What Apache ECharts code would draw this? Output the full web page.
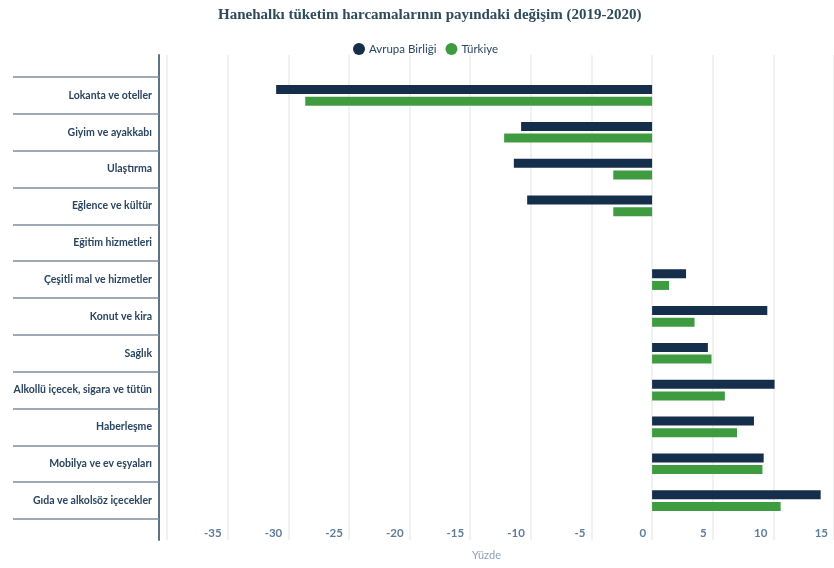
<!DOCTYPE html>
<html lang="tr">
<head>
<meta charset="UTF-8">
<title>Hanehalkı tüketim harcamaları</title>
<script src="https://cdn.jsdelivr.net/npm/echarts@6/dist/echarts.min.js"></script>
<style>
  html, body { margin: 0; padding: 0; background: #fff; }
  #chart { width: 834px; height: 568px; }
</style>
</head>
<body>
<div id="chart"></div>
<script>
// kategoriler (yukarıdan aşağıya)
var categories = [
  'Lokanta ve oteller',
  'Giyim ve ayakkabı',
  'Ulaştırma',
  'Eğlence ve kültür',
  'Eğitim hizmetleri',
  'Çeşitli mal ve hizmetler',
  'Konut ve kira',
  'Sağlık',
  'Alkollü içecek, sigara ve tütün',
  'Haberleşme',
  'Mobilya ve ev eşyaları',
  'Gıda ve alkolsöz içecekler'
];
var abValues = [-31.0, -10.8, -11.4, -10.3, 0, 2.8, 9.5, 4.6, 10.1, 8.4, 9.2, 13.9];
var trValues = [-28.6, -12.2, -3.2, -3.2, 0, 1.4, 3.5, 4.9, 6.0, 7.0, 9.1, 10.6];
var xMin = -40, xMax = 15, xStep = 5;

var axisBlue = '#5d7284';
var labelFont = "'Lato', sans-serif";

var chart = echarts.init(document.getElementById('chart'));
chart.setOption({
  backgroundColor: '#fff',
  animation: false,
  title: {
    text: 'Hanehalkı tüketim harcamalarının payındaki değişim (2019-2020)',
    left: 213,
    top: 3,
    textStyle: {
      fontFamily: "'Liberation Serif', serif",
      fontWeight: 'bold',
      fontSize: 15,
      color: '#2e4b5c'
    }
  },
  legend: {
    left: 348,
    top: 38,
    icon: 'circle',
    itemWidth: 12,
    itemHeight: 12,
    itemGap: 9,
    textStyle: { fontFamily: labelFont, fontSize: 11.5, color: '#2a4763', padding: [0, 0, 0, -1] },
    data: ['Avrupa Birliği', 'Türkiye']
  },
  grid: [
    // çubuklar
    { left: 167, right: 0, top: 77, bottom: 49 },
    // dikey çizgiler ve eksen
    { left: 167, right: 0, top: 55, bottom: 28 }
  ],
  xAxis: [
    {
      gridIndex: 0, type: 'value', min: xMin, max: xMax, interval: xStep,
      show: false
    },
    {
      gridIndex: 1, type: 'value', min: xMin, max: xMax, interval: xStep,
      axisLine: { show: false, onZero: false },
      axisTick: { show: false },
      splitLine: { show: true, lineStyle: { color: '#ececec', width: 1.5 } },
      axisLabel: {
        inside: true,
        showMinLabel: false,
        margin: 1,
        align: 'right',
        padding: [0, 6, 0, 0],
        fontFamily: labelFont,
        fontWeight: 'bold',
        fontSize: 11.5,
        color: '#5f7c98'
      },
      name: 'Yüzde',
      nameLocation: 'middle',
      nameGap: 10,
      nameTextStyle: {
        fontFamily: labelFont, fontSize: 11, color: '#8ba2b8',
        padding: [0, 28, 0, 0]
      }
    }
  ],
  yAxis: [
    {
      gridIndex: 0, type: 'category', data: categories, inverse: true,
      offset: 8,
      axisLine: { show: false, onZero: false },
      axisTick: { show: true, length: 146, lineStyle: { color: '#7d8f9e', width: 1.5 } },
      axisLabel: {
        margin: 7,
        fontFamily: labelFont,
        fontWeight: 'bold',
        fontSize: 10.5,
        color: '#2a4560'
      }
    },
    {
      gridIndex: 1, type: 'value',
      offset: 8,
      axisLine: { show: true, onZero: false, lineStyle: { color: axisBlue, width: 2 } },
      axisTick: { show: false },
      axisLabel: { show: false },
      splitLine: { show: false }
    }
  ],
  series: [
    {
      name: 'Avrupa Birliği', type: 'bar', xAxisIndex: 0, yAxisIndex: 0,
      data: abValues, barWidth: 9, barGap: '30%',
      itemStyle: { color: '#152e4b' }
    },
    {
      name: 'Türkiye', type: 'bar', xAxisIndex: 0, yAxisIndex: 0,
      data: trValues, barWidth: 9, barGap: '30%',
      itemStyle: { color: '#3f9b3f' }
    }
  ]
});
</script>
</body>
</html>
